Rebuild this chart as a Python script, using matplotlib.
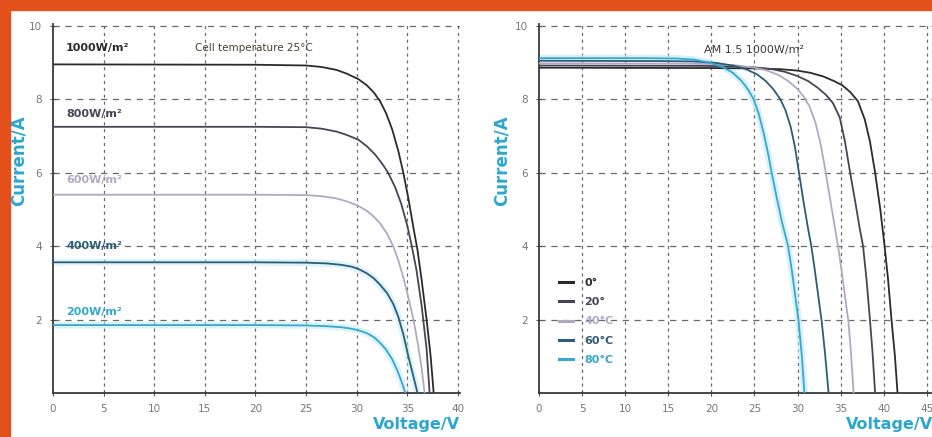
import matplotlib
import matplotlib.pyplot as plt

matplotlib.use('Agg')

# Left panel: I-V curves at different irradiance (cell temperature 25 C)
v_1000 = [0, 20, 25, 26.5, 28, 29, 30.15, 31, 31.7, 32.3, 32.9, 33.5, 34.1, 34.6, 35.1, 35.6, 36.0, 36.4, 36.9, 37.3, 37.6]
i_1000 = [8.95, 8.94, 8.92, 8.88, 8.8, 8.7, 8.55, 8.38, 8.18, 7.95, 7.62, 7.18, 6.6, 6.0, 5.3, 4.5, 3.9, 3.1, 2.0, 1.0, 0]
v_800 = [0, 20, 25, 26.5, 28, 29, 30.15, 31, 31.8, 32.5, 33.1, 33.8, 34.4, 35.0, 35.4, 35.9, 36.4, 36.9, 37.2]
i_800 = [7.25, 7.25, 7.24, 7.2, 7.12, 7.03, 6.9, 6.72, 6.5, 6.25, 6.0, 5.6, 5.15, 4.55, 4.05, 3.35, 2.4, 1.2, 0]
v_600 = [0, 20, 25, 26.5, 28, 29, 30.15, 31, 31.7, 32.3, 33.0, 33.6, 34.1, 34.6, 35.1, 35.6, 36.0, 36.4, 36.7]
i_600 = [5.4, 5.4, 5.39, 5.36, 5.3, 5.22, 5.1, 4.96, 4.8, 4.62, 4.34, 4.0, 3.62, 3.15, 2.6, 2.0, 1.4, 0.7, 0]
v_400 = [0, 20, 25, 27, 28.5, 29.5, 30.15, 31, 31.7, 32.3, 33.0, 33.6, 34.1, 34.6, 35.1, 35.6, 36.0]
i_400 = [3.56, 3.56, 3.55, 3.53, 3.49, 3.44, 3.38, 3.26, 3.12, 2.95, 2.72, 2.43, 2.08, 1.6, 1.0, 0.45, 0]
v_200 = [0, 20, 25, 27, 28.5, 29.5, 30.15, 31, 31.7, 32.3, 32.9, 33.5, 34.0, 34.4, 34.8]
i_200 = [1.85, 1.85, 1.84, 1.82, 1.79, 1.75, 1.71, 1.63, 1.52, 1.37, 1.18, 0.92, 0.62, 0.33, 0]

irr_labels = ['1000W/m²', '800W/m²', '600W/m²', '400W/m²', '200W/m²']
irr_colors = ['#2b2b2b', '#4a4356', '#b3a8c4', '#2b5d76', '#35a9cc']
irr_label_y = [9.4, 7.6, 5.8, 4.0, 2.2]

# Right panel: I-V curves at different cell temperature (AM 1.5, 1000 W/m2)
v_0c = [0, 20, 25, 28, 30, 31.5, 33, 34.2, 35.2, 36.1, 37.0, 37.8, 38.4, 39.0, 39.6, 40.1, 40.5, 40.9, 41.3, 41.6]
i_0c = [8.86, 8.85, 8.84, 8.82, 8.78, 8.72, 8.62, 8.5, 8.38, 8.2, 7.95, 7.45, 6.85, 6.0, 5.0, 4.0, 3.1, 2.0, 1.0, 0]
v_20c = [0, 18, 22, 25, 27, 28.5, 30, 31.2, 32.3, 33.3, 34.1, 34.9, 35.5, 36.1, 36.7, 37.2, 37.6, 38.0, 38.4, 38.7, 39.0]
i_20c = [8.92, 8.91, 8.9, 8.87, 8.82, 8.75, 8.63, 8.5, 8.32, 8.12, 7.9, 7.5, 6.85, 6.0, 5.2, 4.5, 4.0, 3.1, 2.0, 1.1, 0]
v_40c = [0, 16, 20, 23, 25, 26.5, 27.8, 28.9, 29.9, 30.7, 31.4, 32.1, 32.7, 33.2, 33.8, 34.3, 34.7, 35.1, 35.5, 35.9, 36.2, 36.5]
i_40c = [8.98, 8.97, 8.96, 8.92, 8.86, 8.78, 8.66, 8.5, 8.3, 8.08, 7.8, 7.35, 6.75, 6.1, 5.25, 4.55, 4.0, 3.35, 2.65, 1.95, 1.1, 0]
v_60c = [0, 14, 18, 20.5, 22.5, 24, 25.3, 26.3, 27.2, 28.0, 28.6, 29.2, 29.7, 30.1, 30.7, 31.2, 31.6, 32.0, 32.4, 32.8, 33.2, 33.6]
i_60c = [9.05, 9.04, 9.03, 8.99, 8.92, 8.82, 8.68, 8.5, 8.27, 8.0, 7.7, 7.25, 6.7, 6.1, 5.2, 4.5, 4.0, 3.35, 2.65, 1.95, 1.05, 0]
v_80c = [0, 12, 16, 18, 19.8, 21.3, 22.5, 23.5, 24.3, 24.9, 25.5, 26.1, 26.6, 27.0, 27.6, 28.2, 28.9, 29.3, 29.7, 30.1, 30.5, 30.8]
i_80c = [9.12, 9.12, 9.11, 9.08, 9.0, 8.88, 8.72, 8.5, 8.25, 8.0, 7.6, 7.05, 6.5, 6.0, 5.3, 4.65, 4.0, 3.4, 2.7, 2.0, 1.0, 0]

temp_labels = ['0°', '20°', '40°C', '60°C', '80°C']
temp_colors = ['#2b2b2b', '#4a4356', '#b3a8c4', '#2b5d76', '#35a9cc']

CYAN = '#2aa6cf'
GRID = '#6a6a6a'


def style_axes(ax, xmax, xticks, ylabel_x):
    ax.set_xlim(0, xmax)
    ax.set_ylim(0, 10.05)
    ax.set_xticks(xticks)
    ax.set_yticks([2, 4, 6, 8, 10])
    for x in xticks[1:]:
        ax.axvline(x, color=GRID, lw=0.9, dashes=(2.5, 3), zorder=1)
    for y in [2, 4, 6, 8, 10]:
        ax.axhline(y, color=GRID, lw=0.9, dashes=(5, 4.5), zorder=1)
    ax.spines['top'].set_visible(False)
    ax.spines['right'].set_visible(False)
    ax.spines['left'].set_color('#3a3a3a')
    ax.spines['bottom'].set_color('#3a3a3a')
    ax.spines['left'].set_linewidth(1.3)
    ax.spines['bottom'].set_linewidth(1.3)
    ax.tick_params(direction='inout', length=4, width=0.8, colors='#555555',
                   labelsize=7.5, labelcolor='#777777', pad=6)
    ax.text(ylabel_x, 0.63, 'Current/A', transform=ax.transAxes, rotation=90,
            ha='center', va='center', color=CYAN, fontsize=12, fontweight='bold')


def main() -> None:
    fig = plt.figure(figsize=(9.32, 4.37), dpi=100)
    fig.patch.set_facecolor('white')

    # orange frame along the top and left
    fig.patches.append(plt.Rectangle((0, 1 - 10 / 437), 1, 10 / 437, transform=fig.transFigure,
                                     color='#e4501c', zorder=0))
    fig.patches.append(plt.Rectangle((0, 0), 10 / 932, 1, transform=fig.transFigure,
                                     color='#e4501c', zorder=0))

    ax1 = fig.add_axes([53 / 932, 1 - 393 / 437, 407 / 932, 369 / 437])
    style_axes(ax1, 40.2, [0, 5, 10, 15, 20, 25, 30, 35, 40], -0.085)

    left_curves = [(v_1000, i_1000), (v_800, i_800), (v_600, i_600), (v_400, i_400), (v_200, i_200)]
    for k, (v, i) in enumerate(left_curves):
        if k >= 3:
            ax1.plot(v, i, color='#bfe9f5', lw=5, alpha=0.5, zorder=2, solid_capstyle='butt')
        ax1.plot(v, i, color=irr_colors[k], lw=1.3, zorder=3)
        ax1.text(1.3, irr_label_y[k], irr_labels[k], color=irr_colors[k], fontsize=8,
                 fontweight='bold', va='center', ha='left')
    ax1.text(14, 9.4, 'Cell temperature 25°C', color='#4a4030', fontsize=7.5, va='center', ha='left')
    ax1.text(1.0, -0.065, 'Voltage/V', transform=ax1.transAxes, ha='right', va='top',
             color=CYAN, fontsize=11.5, fontweight='bold')

    ax2 = fig.add_axes([539 / 932, 1 - 393 / 437, 393 / 932, 369 / 437])
    style_axes(ax2, 45.6, [0, 5, 10, 15, 20, 25, 30, 35, 40, 45], -0.095)

    right_curves = [(v_0c, i_0c), (v_20c, i_20c), (v_40c, i_40c), (v_60c, i_60c), (v_80c, i_80c)]
    handles = []
    for k, (v, i) in enumerate(right_curves):
        if k == 4:
            ax2.plot(v, i, color='#bfe9f5', lw=5, alpha=0.6, zorder=2, solid_capstyle='butt')
        line, = ax2.plot(v, i, color=temp_colors[k], lw=1.3, zorder=3)
        handles.append(line)
    ax2.text(25, 9.35, 'AM 1.5 1000W/m²', color='#3a3a3a', fontsize=8, va='center', ha='center')
    leg = ax2.legend(handles, temp_labels, loc='upper left', bbox_to_anchor=(0.025, 0.34),
                     frameon=False, handlelength=1.3, handletextpad=1.0, labelspacing=0.85,
                     prop={'size': 8, 'weight': 'bold'})
    for txt, c in zip(leg.get_texts(), temp_colors):
        txt.set_color(c)
    for h in leg.legend_handles:
        h.set_linewidth(2.2)
    ax2.text(0.78, -0.065, 'Voltage/V', transform=ax2.transAxes, ha='left', va='top',
             color=CYAN, fontsize=11.5, fontweight='bold', clip_on=False)

    fig.savefig('out.png', dpi=100)


if __name__ == '__main__':
    main()
